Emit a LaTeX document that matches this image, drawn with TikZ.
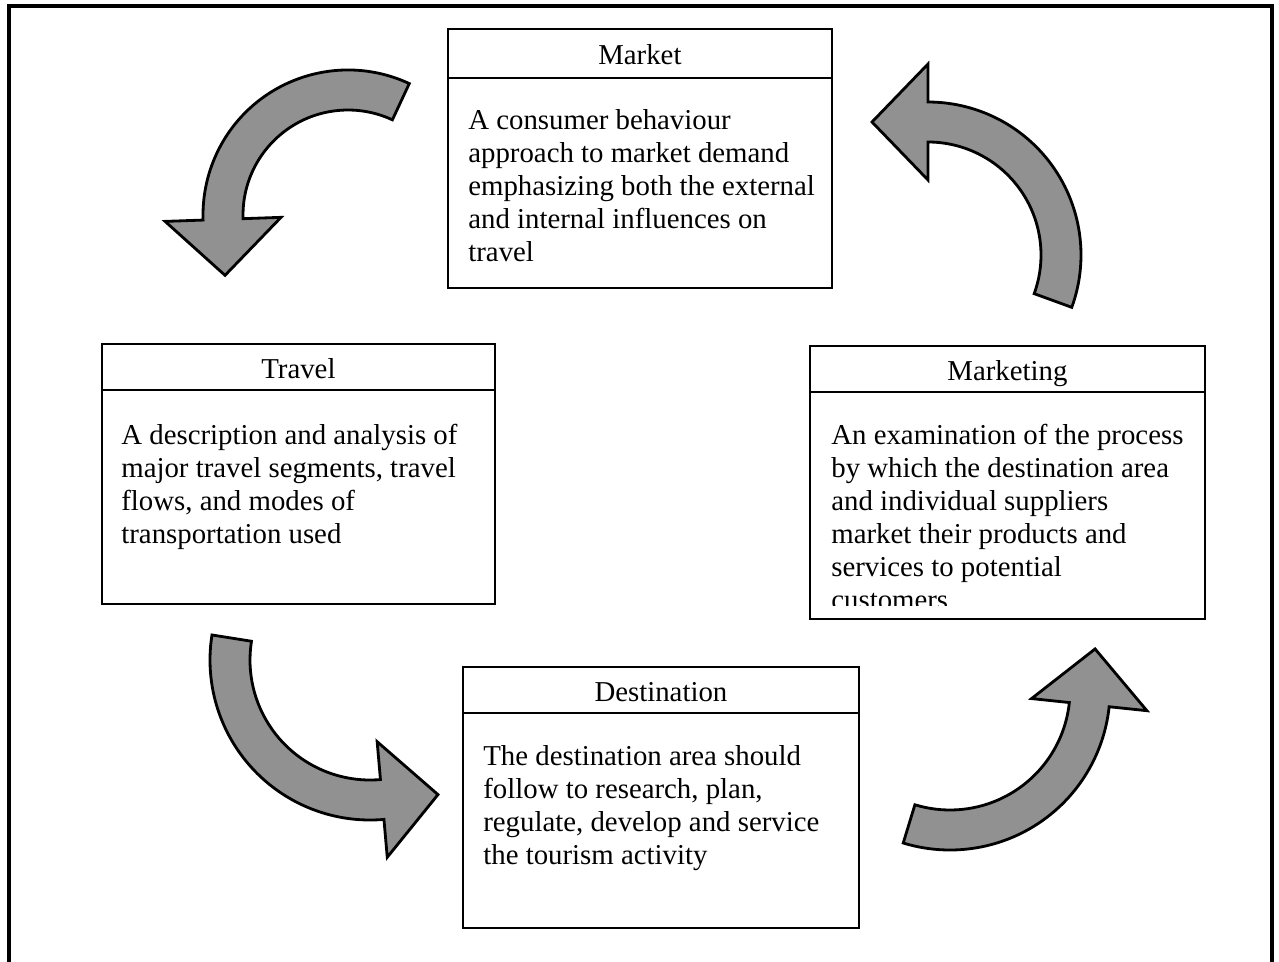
\documentclass[tikz,border=0pt]{standalone}
\usepackage{fontspec}
\setmainfont{Liberation Serif}
\usetikzlibrary{calc}
\usetikzlibrary{positioning}
\definecolor{arrow-gray}{RGB}{145, 145, 145}

% curved block arrow: centre, mid radius, start angle, end angle
\newcommand{\bendarrow}[4]{%
  \filldraw[flowarrow] ($(#1)+(#3:{#2+20})$) arc[start angle=#3, end angle=#4, radius=#2+20]
    -- ($(#1)+(#4:{#2+58})$) -- ($(#1)+(#4:#2)+({#4-90}:56)$)
    -- ($(#1)+(#4:{#2-58})$) -- ($(#1)+(#4:{#2-20})$)
    arc[start angle=#4, end angle=#3, radius=#2-20] -- cycle;}

\begin{document}
\begin{tikzpicture}[x=0.02cm, y=-0.02cm,
    topic/.style={draw, line width=1.1pt, anchor=north west, inner sep=0pt},
    headline/.style={line width=0.9pt},
    title/.style={anchor=base, inner sep=0pt, font=\fontsize{16.4}{18.8}\selectfont},
    body/.style={anchor=north west, inner sep=0pt, align=left, font=\fontsize{16.4}{18.8}\selectfont},
    flowarrow/.style={fill=arrow-gray, draw=black, line width=1.6pt, line join=miter}]
    \useasboundingbox (0,0) rectangle (1279,961);
    \clip (0,0) rectangle (1279,961);
    % outer frame
    \draw[line width=2pt] (9,980) -- (9,6) -- (1272,6) -- (1272,980);

    % boxes
    \node[topic, minimum width=7.68cm, minimum height=5.18cm] (market) at (447,28) {};
    \draw[headline] ($(market.north west)+(0,50)$) -- ($(market.north east)+(0,50)$);
    \node[title] (market title) at ($(market.north)+(0,36)$) {Market};
    \node[body] (market text) at ($(market.north west)+(21,78)$) {\strut A consumer behaviour\\approach to market demand\\emphasizing both the external\\and internal influences on\\travel};

    \node[topic, minimum width=7.86cm, minimum height=5.20cm] (travel) at (101,343) {};
    \draw[headline] ($(travel.north west)+(0,47)$) -- ($(travel.north east)+(0,47)$);
    \node[title] (travel title) at ($(travel.north)+(0,35)$) {Travel};
    \node[body] (travel text) at ($(travel.north west)+(20,78)$) {\strut A description and analysis of\\major travel segments, travel\\flows, and modes of\\transportation used};

    \node[topic, minimum width=7.90cm, minimum height=5.46cm] (marketing) at (809,345) {};
    \draw[headline] ($(marketing.north west)+(0,47)$) -- ($(marketing.north east)+(0,47)$);
    \node[title] (marketing title) at ($(marketing.north)+(0,35)$) {Marketing};
    \begin{scope}
        % last line is cut off by the box edge
        \clip (marketing.north west) rectangle ($(marketing.south east)+(0,-14)$);
        \node[body] (marketing text) at ($(marketing.north west)+(22,76)$) {\strut An examination of the process\\by which the destination area\\and individual suppliers\\market their products and\\services to potential\\customers};
    \end{scope}

    \node[topic, minimum width=7.92cm, minimum height=5.22cm] (destination) at (462,666) {};
    \draw[headline] ($(destination.north west)+(0,47)$) -- ($(destination.north east)+(0,47)$);
    \node[title] (destination title) at ($(destination.north)+(0,35)$) {Destination};
    \node[body] (destination text) at ($(destination.north west)+(21,76)$) {\strut The destination area should\\follow to research, plan,\\regulate, develop and service\\the tourism activity};

    % arrows between the boxes
    \coordinate (market to travel) at (348,215);
    \coordinate (travel to destination) at (370,660);
    \coordinate (destination to marketing) at (950,690);
    \coordinate (marketing to market) at (928,255);
    \bendarrow{market to travel}{125}{-65}{-182}
    \bendarrow{travel to destination}{140}{189}{85}
    \bendarrow{destination to marketing}{140}{107}{6}
    \bendarrow{marketing to market}{133}{20}{-90}
\end{tikzpicture}
\end{document}
